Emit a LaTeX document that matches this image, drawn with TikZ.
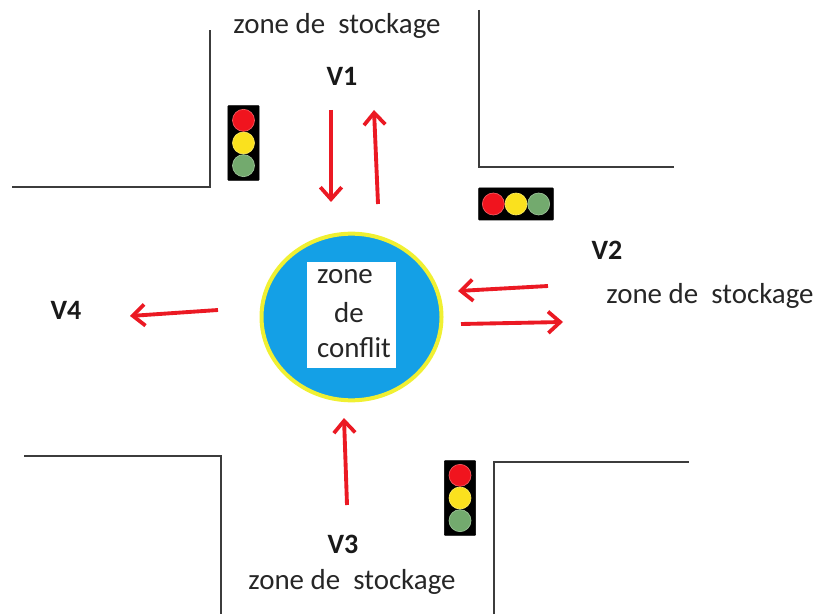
\documentclass[tikz,border=0pt]{standalone}
\usepackage{fontspec}
\setmainfont{Carlito}
\usetikzlibrary{arrows.meta, positioning, shapes.geometric}

\definecolor{zoneblue}{RGB}{20,160,230}
\definecolor{zoneyellow}{RGB}{240,240,50}
\definecolor{lampred}{RGB}{240,20,30}
\definecolor{lampyellow}{RGB}{250,225,30}
\definecolor{lampgreen}{RGB}{115,170,110}
\definecolor{flowred}{RGB}{235,25,35}
\definecolor{wallgray}{RGB}{60,60,60}

\tikzset{
  lamp/.style={circle, fill=#1, draw=#1!70!white, line width=0.5pt, inner sep=0pt, minimum size=16.5pt},
  housing/.style={fill=black, draw=black, rounded corners=0.5pt, inner sep=0pt},
  wall/.style={draw=wallgray, line width=2pt, line join=miter},
  flow/.style={draw=flowred, line width=2.9pt, -{Straight Barb[length=9pt, width=16pt, line width=2.8pt]}},
  zonelabel/.style={font=\fontsize{21.7}{24}\selectfont, text=black!85},
  roadlabel/.style={font=\fontsize{21}{24}\selectfont\bfseries, text=black!90}
}

\begin{document}
\begin{tikzpicture}[x=0.75pt, y=-0.75pt]
  \useasboundingbox (0,0) rectangle (816,616);

  % Walls
  \coordinate (ulA) at (12,187);
  \coordinate (ulB) at (210,187);
  \coordinate (ulC) at (210,30);
  \coordinate (urA) at (479,10);
  \coordinate (urB) at (479,167);
  \coordinate (urC) at (674,167);
  \coordinate (llA) at (24,456);
  \coordinate (llB) at (221,456);
  \coordinate (llC) at (221,614);
  \coordinate (lrA) at (494,614);
  \coordinate (lrB) at (494,462);
  \coordinate (lrC) at (689,462);
  \draw[wall] (ulA) -- (ulB) -- (ulC);
  \draw[wall] (urA) -- (urB) -- (urC);
  \draw[wall] (llA) -- (llB) -- (llC);
  \draw[wall] (lrA) -- (lrB) -- (lrC);

  % Conflict zone
  \node[ellipse, fill=zoneblue, draw=zoneyellow, line width=3pt, minimum width=135pt, minimum height=125pt, inner sep=0pt] (conflict) at (351.5,317) {};
  \node[fill=white, minimum width=66.5pt, minimum height=79.5pt, inner sep=0pt] (conflictbox) at (351.5,315) {};
  \node[zonelabel] (zone) at (345,277) {zone};
  \node[zonelabel] (de) at (349,313) {de};
  \node[zonelabel] (confl) at (354,348) {conflit};

  % Traffic lights
  \node[housing, minimum width=23.5pt, minimum height=56pt] (lightV1) at (243.5,143) {};
  \node[lamp=lampyellow] (yellowV1) at (lightV1.center) {};
  \node[lamp=lampred, above=0pt of yellowV1] (redV1) {};
  \node[lamp=lampgreen, below=0pt of yellowV1] (greenV1) {};

  \node[housing, minimum width=56pt, minimum height=24pt] (lightV2) at (516,204) {};
  \node[lamp=lampyellow] (yellowV2) at (lightV2.center) {};
  \node[lamp=lampred, left=0pt of yellowV2] (redV2) {};
  \node[lamp=lampgreen, right=0pt of yellowV2] (greenV2) {};

  \node[housing, minimum width=23.5pt, minimum height=56pt] (lightV3) at (460,498) {};
  \node[lamp=lampyellow] (yellowV3) at (lightV3.center) {};
  \node[lamp=lampred, above=0pt of yellowV3] (redV3) {};
  \node[lamp=lampgreen, below=0pt of yellowV3] (greenV3) {};

  % Road labels
  \node[zonelabel] (stockV1) at (337,26) {zone de\ \ stockage};
  \node[roadlabel] (V1) at (342,76) {V1};
  \node[roadlabel] (V2) at (607,250) {V2};
  \node[zonelabel] (stockV2) at (710,296) {zone de\ \ stockage};
  \node[roadlabel] (V3) at (343,544) {V3};
  \node[zonelabel] (stockV3) at (352,582) {zone de\ \ stockage};
  \node[roadlabel] (V4) at (66,310) {V4};

  % Flows
  \coordinate (v1inA) at (331,110);
  \coordinate (v1inB) at (331,202);
  \coordinate (v1outA) at (378,204);
  \coordinate (v1outB) at (374,110);
  \coordinate (v2inA) at (548,286);
  \coordinate (v2inB) at (458,291);
  \coordinate (v2outA) at (461,324);
  \coordinate (v2outB) at (563,322);
  \coordinate (v3inA) at (347,505);
  \coordinate (v3inB) at (344,418);
  \coordinate (v4outA) at (218,310);
  \coordinate (v4outB) at (130,316);
  \draw[flow] (v1inA) -- (v1inB);
  \draw[flow] (v1outA) -- (v1outB);
  \draw[flow] (v2inA) -- (v2inB);
  \draw[flow] (v2outA) -- (v2outB);
  \draw[flow] (v3inA) -- (v3inB);
  \draw[flow] (v4outA) -- (v4outB);
\end{tikzpicture}
\end{document}
